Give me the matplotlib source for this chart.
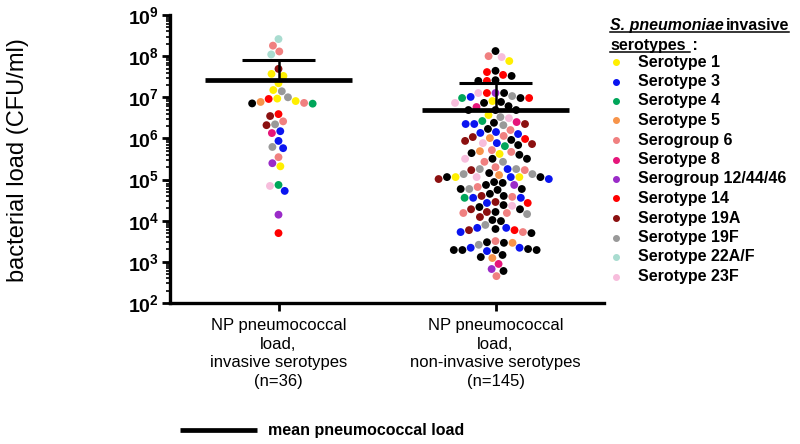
import numpy as np
import matplotlib.pyplot as plt
from matplotlib.lines import Line2D
from matplotlib.ticker import LogLocator, FuncFormatter, NullFormatter

plt.rcParams['font.family'] = ['Liberation Sans', 'DejaVu Sans']
plt.rcParams['mathtext.fontset'] = 'custom'
plt.rcParams['mathtext.rm'] = 'Liberation Sans'
plt.rcParams['mathtext.bf'] = 'Liberation Sans:bold'

# categories
groups = ['NP pneumococcal\nload,\ninvasive serotypes\n(n=36)',
          'NP pneumococcal\nload,\nnon-invasive serotypes\n(n=145)']

serotypes = ['1', '3', '4', '5', '6', '8', '12/44/46', '14', '19A', '19F', '22A/F', '23F']
serotype_labels = ['Serotype 1', 'Serotype 3', 'Serotype 4', 'Serotype 5', 'Serogroup 6',
                   'Serotype 8', 'Serogroup 12/44/46', 'Serotype 14', 'Serotype 19A',
                   'Serotype 19F', 'Serotype 22A/F', 'Serotype 23F']
serotype_colors = ['#FFEF00', '#0A14F0', '#00A65A', '#F7944A', '#F08080', '#E6157A',
                   '#9A2BC8', '#FF0000', '#8B1010', '#999999', '#A9DCD0', '#F7BDDC']
other_color = 'black'

# invasive serotypes group (CFU/ml)
inv_load = [2.6e8, 1.8e8, 1.3e8, 1.1e8, 4.9e7, 3.3e7, 3.7e7, 2.2e7, 1.4e7, 1.5e7,
            1.0e7, 9.1e6, 7.7e6, 7.3e6, 7.1e6, 7.0e6, 8.1e6, 9.3e6, 3.9e6, 3.5e6,
            2.6e6, 2.2e6, 2.1e6, 1.5e6, 1.35e6, 8.7e5, 5.8e5, 6.2e5, 3.5e5, 2.5e5,
            2.1e5, 7.4e4, 7.0e4, 5.3e4, 1.4e4, 5.0e3]
inv_type = ['22A/F', '6', '6', '22A/F', '19A', '1', '1', '1', '19F', '1',
            '19F', '14', '5', '6', 'other', '4', '1', '1', '14', '19A',
            '6', '19F', '19A', '3', '8', '3', '3', '19F', '6', '12/44/46',
            '1', '4', '23F', '3', '12/44/46', '14']

# non-invasive serotypes group (CFU/ml)
noninv_load = [1.0e8, 9.5e7, 7.6e7, 1.33e8, 4.1e7, 4.4e7, 3.5e7, 3.3e7, 2.5e7, 2.6e7,
               2.5e7, 1.27e7, 1.02e7, 9.6e6, 1.27e7, 1.27e7, 1.27e7, 9.6e6, 9.6e6, 1.07e7,
               7.3e6, 6.1e6, 8.1e6, 7.7e6, 5.8e6, 7.3e6, 4.9e6, 4.9e6, 3.7e6, 3.1e6,
               2.5e6, 2.4e6, 2.65e6, 3.3e6, 2.1e6, 2.24e6, 2.24e6, 2.24e6, 1.36e6, 1.15e6,
               1.7e6, 1.43e6, 1.6e6, 1.28e6, 1.08e6, 9.7e5, 8.7e5, 7.7e5, 1.02e6, 9.2e5,
               7.7e5, 7.3e5, 6.5e5, 6.9e5, 4.9e5, 4.4e5, 4.0e5, 5.2e5, 4.2e5, 4.7e5,
               3.2e5, 3.2e5, 3.2e5, 2.7e5, 2.7e5, 1.44e5, 1.36e5, 1.8e5, 1.8e5, 1.7e5,
               1.7e5, 1.8e5, 2.0e5, 1.15e5, 1.15e5, 1.15e5, 1.03e5, 1.03e5, 1.15e5, 1.15e5,
               1.15e5, 1.29e5, 1.36e5, 8.7e4, 7.4e4, 6.6e4, 5.9e4, 5.6e4, 5.9e4, 5.9e4,
               7.4e4, 8.3e4, 4.0e4, 3.8e4, 3.6e4, 2.85e4, 2.7e4, 3.6e4, 3.6e4, 4.0e4,
               4.5e4, 2.3e4, 2.15e4, 1.54e4, 1.9e4, 1.54e4, 1.63e4, 1.63e4, 1.9e4, 2.4e4,
               2.7e4, 1.45e4, 1.23e4, 1.04e4, 9.8e3, 7.9e3, 6.3e3, 5.9e3, 5.3e3, 5.0e3,
               5.3e3, 5.9e3, 6.7e3, 6.7e3, 3.0e3, 2.9e3, 2.6e3, 2.9e3, 3.2e3, 2.2e3,
               1.94e3, 1.94e3, 2.05e3, 1.83e3, 1.94e3, 1.94e3, 2.2e3, 1.47e3, 1.31e3, 1.24e3,
               8.9e2, 6.7e2, 6.0e2, 4.5e2, 4.9e6]
noninv_type = ['6', '23F', '1', 'other', '14', 'other', '14', 'other', '14', 'other',
               'other', '12/44/46', '3', 'other', '14', 'other', '23F', '4', '14', '19F',
               'other', 'other', '1', 'other', '8', '23F', 'other', 'other', '1', '23F',
               '8', 'other', '4', '19F', '19F', '3', '19A', '3', '3', '6',
               'other', '3', '6', '3', '19A', '14', '19A', '3', '5', 'other',
               '23F', '19A', '4', 'other', '5', 'other', 'other', '6', '1', '6',
               'other', '23F', 'other', '19F', '6', 'other', '19F', '3', '19F', '19A',
               '6', '19F', '6', '3', '23F', '1', '3', '19A', '1', 'other',
               'other', '5', '19F', 'other', 'other', '6', '19F', 'other', 'other', 'other',
               '12/44/46', 'other', 'other', '6', '3', '19A', '3', '3', '4', '19A',
               'other', '23F', 'other', '6', '19A', '6', 'other', '19A', 'other', 'other',
               '14', '19F', '19A', 'other', 'other', '19F', 'other', '14', '6', 'other',
               '3', '19A', '3', '3', 'other', 'other', '19F', '5', '6', '3',
               'other', 'other', 'other', '3', 'other', 'other', '3', 'other', 'other', '5',
               '8', '12/44/46', 'other', '6', 'other']

# mean and mean + SD
mean_load = [2.6e7, 4.9e6]
sd_upper = [8.0e7, 2.2e7]


def swarm(ypix, d):
    xs = np.zeros(len(ypix))
    placed = []
    for i in np.argsort(-ypix, kind='stable'):
        y = ypix[i]
        near = [(px, py) for px, py in placed if abs(py - y) < d]
        cands = [0.0]
        for px, py in near:
            dx = np.sqrt(d * d - (py - y) ** 2)
            cands += [px - dx, px + dx]
        cands.sort(key=abs)
        for c in cands:
            if all((c - px) ** 2 + (y - py) ** 2 >= d * d - 1e-6 for px, py in near):
                xs[i] = c
                break
        placed.append((xs[i], y))
    return xs


W, H = 800, 444
fig = plt.figure(figsize=(W / 100, H / 100), dpi=100)
ax = fig.add_axes([170 / W, 1 - 303 / H, (604 - 170) / W, (303 - 15) / H])
ax.set_yscale('log')
ax.set_ylim(1e2, 1e9)
ax.set_xlim(0.5, 2.5)

color_of = dict(zip(serotypes, serotype_colors))
color_of['other'] = other_color
px_per_x = ax.transData.transform((1, 1))[0] - ax.transData.transform((0, 1))[0]

for gi, (loads, types) in enumerate([(inv_load, inv_type), (noninv_load, noninv_type)]):
    xpos = gi + 1
    loads = np.array(loads)
    ypix = ax.transData.transform(np.column_stack([np.full(len(loads), xpos), loads]))[:, 1]
    offs = swarm(ypix, 8.6) / px_per_x
    ax.scatter(xpos + offs, loads, s=32, c=[color_of[t] for t in types],
               edgecolors='none', zorder=2, clip_on=False)
    m, up = mean_load[gi], sd_upper[gi]
    ax.plot([xpos - 0.34, xpos + 0.34], [m, m], color='black', lw=3.4,
            solid_capstyle='butt', zorder=4)
    ax.plot([xpos, xpos], [m, up], color='black', lw=1.8, zorder=4)
    ax.plot([xpos - 0.17, xpos + 0.17], [up, up], color='black', lw=2.2,
            solid_capstyle='butt', zorder=4)

for s in ['top', 'right']:
    ax.spines[s].set_visible(False)
for s in ['left', 'bottom']:
    ax.spines[s].set_linewidth(2.4)

ax.yaxis.set_major_locator(LogLocator(base=10, numticks=10))
ax.yaxis.set_minor_locator(LogLocator(base=10, subs=np.arange(2, 10), numticks=20))
ax.yaxis.set_minor_formatter(NullFormatter())
ax.yaxis.set_major_formatter(FuncFormatter(lambda v, p: r'$\mathbf{10^{%d}}$' % round(np.log10(v))))
ax.tick_params(axis='y', which='major', direction='out', length=6, width=2, labelsize=14, pad=2)
ax.tick_params(axis='y', which='minor', direction='out', length=3, width=1.2)

ax.set_xticks([1, 2])
ax.set_xticklabels(groups, fontsize=12, linespacing=1.3)
ax.tick_params(axis='x', direction='out', length=6, width=2, pad=5)

fig.text(18 / W, 1 - 160 / H, 'bacterial load (CFU/ml)', rotation=90, fontsize=17,
         ha='center', va='center')

# legend of serotypes
fs = 11.5
t1 = fig.text(610 / W, 1 - 30 / H, 'S. pneumoniae', style='italic', weight='bold',
              fontsize=fs, va='baseline')
fig.canvas.draw()
r = fig.canvas.get_renderer()
b1 = t1.get_window_extent(r)
t2 = fig.text((b1.x1 + 2) / W, 1 - 30 / H, 'invasive', weight='bold', fontsize=fs,
              va='baseline')
t3 = fig.text(610 / W, 1 - 50 / H, 'serotypes', weight='bold', fontsize=fs, va='baseline')
fig.canvas.draw()
b2 = t2.get_window_extent(r)
b3 = t3.get_window_extent(r)
fig.text((b3.x1 + 2) / W, 1 - 50 / H, ' :', weight='bold', fontsize=fs, va='baseline')
fig.add_artist(Line2D([b1.x0 / W, b2.x1 / W], [1 - 32.5 / H] * 2, color='black', lw=1.1))
fig.add_artist(Line2D([b3.x0 / W, (b3.x1 + 4) / W], [1 - 52.5 / H] * 2, color='black', lw=1.1))

for i, (lab, c) in enumerate(zip(serotype_labels, serotype_colors)):
    y = 1 - (62 + 19.5 * i) / H
    fig.add_artist(Line2D([616 / W], [y], marker='o', ms=4, color=c, lw=0))
    fig.text(638 / W, y, lab, weight='bold', fontsize=fs, va='center')

# mean legend
fig.add_artist(Line2D([180 / W, 257 / W], [1 - 430 / H] * 2, color='black', lw=3.4,
                      solid_capstyle='butt'))
fig.text(268 / W, 1 - 430 / H, 'mean pneumococcal load', weight='bold', fontsize=fs,
         va='center')

fig.savefig('out.png', dpi=100)
